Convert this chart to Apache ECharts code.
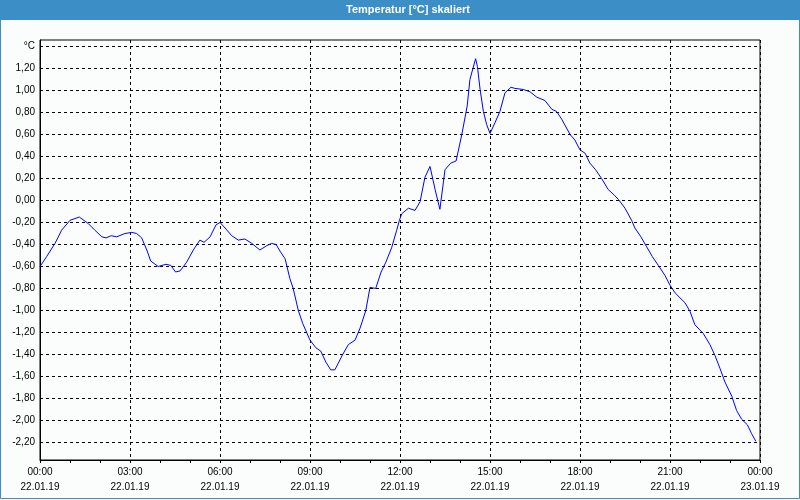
<!DOCTYPE html>
<html>
<head>
<meta charset="utf-8">
<script src="https://cdn.jsdelivr.net/npm/echarts@6/dist/echarts.min.js"></script>
<style>html,body{margin:0;padding:0;background:#fbfdfc;}#c{width:800px;height:500px;}</style>
</head>
<body>
<div id="c"></div>
<script>
const chartTitle = 'Temperatur [°C] skaliert';
const unitLabel = '°C';
// hours since 22.01.19 00:00
const hours = [0.00,0.22,0.50,0.72,1.00,1.31,1.61,1.83,2.06,2.20,2.37,2.56,2.83,3.06,3.22,3.39,3.56,3.69,3.94,4.20,4.36,4.52,4.67,4.89,5.11,5.33,5.47,5.67,5.87,6.00,6.17,6.39,6.61,6.83,7.06,7.33,7.56,7.72,7.87,8.00,8.17,8.33,8.44,8.61,8.76,9.00,9.20,9.36,9.53,9.69,9.83,10.09,10.28,10.50,10.67,10.86,11.00,11.19,11.37,11.53,11.72,11.89,11.98,12.06,12.28,12.50,12.67,12.83,13.00,13.17,13.33,13.50,13.69,13.87,14.06,14.24,14.33,14.52,14.58,14.67,14.78,14.89,15.00,15.17,15.33,15.50,15.70,15.83,16.11,16.33,16.56,16.83,17.06,17.22,17.39,17.67,17.83,18.00,18.17,18.33,18.52,18.72,18.94,19.14,19.28,19.50,19.72,19.83,20.03,20.22,20.41,20.61,20.83,21.00,21.17,21.50,21.67,21.83,22.11,22.33,22.50,22.67,22.83,23.06,23.22,23.39,23.58,23.72,23.86];
const temps = [-0.60,-0.51,-0.39,-0.27,-0.18,-0.15,-0.21,-0.27,-0.33,-0.34,-0.32,-0.33,-0.30,-0.29,-0.30,-0.34,-0.45,-0.55,-0.60,-0.58,-0.59,-0.65,-0.64,-0.56,-0.45,-0.36,-0.38,-0.33,-0.22,-0.20,-0.25,-0.32,-0.36,-0.35,-0.39,-0.45,-0.41,-0.39,-0.40,-0.46,-0.53,-0.71,-0.80,-1.00,-1.12,-1.27,-1.34,-1.37,-1.47,-1.54,-1.54,-1.40,-1.31,-1.27,-1.16,-1.00,-0.79,-0.80,-0.65,-0.56,-0.43,-0.27,-0.18,-0.12,-0.07,-0.09,-0.01,0.21,0.31,0.10,-0.08,0.28,0.34,0.36,0.60,0.86,1.10,1.29,1.22,1.01,0.81,0.69,0.61,0.71,0.81,0.98,1.03,1.02,1.01,0.99,0.94,0.91,0.83,0.81,0.74,0.60,0.55,0.46,0.43,0.34,0.28,0.20,0.10,0.05,0.01,-0.07,-0.18,-0.25,-0.33,-0.42,-0.51,-0.59,-0.68,-0.77,-0.84,-0.93,-1.01,-1.13,-1.21,-1.31,-1.41,-1.53,-1.65,-1.78,-1.91,-1.99,-2.04,-2.12,-2.19];
const yTicks = [-2.2,-2.0,-1.8,-1.6,-1.4,-1.2,-1.0,-0.8,-0.6,-0.4,-0.2,0,0.2,0.4,0.6,0.8,1.0,1.2,1.4];
const xTimeLabels = ['00:00','03:00','06:00','09:00','12:00','15:00','18:00','21:00','00:00'];
const xDateLabels = ['22.01.19','22.01.19','22.01.19','22.01.19','22.01.19','22.01.19','22.01.19','22.01.19','23.01.19'];

const data = hours.map((h, i) => [h, temps[i]]);
const font = 'Liberation Sans';
const blue = '#3b8fc6';
const chart = echarts.init(document.getElementById('c'));
chart.setOption({
  backgroundColor: '#fbfdfc',
  animation: false,
  graphic: [
    { type: 'rect', shape: { x: 0, y: 0, width: 800, height: 20 }, style: { fill: blue }, z: 10 },
    { type: 'rect', shape: { x: 0.5, y: 0.5, width: 799, height: 498 }, style: { fill: null, stroke: blue, lineWidth: 1 }, z: 10 },
    { type: 'text', x: 408, y: 10, style: { text: chartTitle, fill: '#fff', font: 'bold 11px ' + font, align: 'center', verticalAlign: 'middle' }, z: 11 }
  ],
  grid: { left: 40, right: 40, top: 40, bottom: 40, show: true, borderColor: '#000', borderWidth: 1, backgroundColor: 'transparent' },
  xAxis: {
    type: 'value', min: 0, max: 24, interval: 3,
    axisLine: { show: true, onZero: false, lineStyle: { color: '#000', width: 1 } },
    axisTick: { show: true, length: 3, lineStyle: { color: '#000' } },
    minorTick: { show: true, splitNumber: 3, length: 3, lineStyle: { color: '#000' } },
    splitLine: { show: true, lineStyle: { color: '#000', type: [3, 3], width: 1 } },
    axisLabel: {
      color: '#000', fontFamily: font, fontSize: 10, lineHeight: 15, margin: 5,
      formatter: v => { const i = Math.round(v / 3); return xTimeLabels[i] + '\n' + xDateLabels[i]; }
    }
  },
  yAxis: {
    type: 'value', min: -2.36, max: 1.46,
    axisLine: { show: true, onZero: false, lineStyle: { color: '#000', width: 1 } },
    axisTick: { show: false, customValues: yTicks },
    splitLine: { show: true, lineStyle: { color: '#000', type: [3, 3], width: 1 } },
    axisLabel: {
      customValues: yTicks,
      color: '#000', fontFamily: font, fontSize: 10, margin: 5,
      formatter: v => Math.abs(v - 1.4) < 1e-6 ? unitLabel : (Math.abs(v) < 1e-6 ? '0,00' : v.toFixed(2).replace('.', ','))
    }
  },
  series: [{
    type: 'line', data: data, showSymbol: false, symbol: 'none',
    lineStyle: { color: '#0000ff', width: 1 }, clip: true
  }]
});
</script>
</body>
</html>
